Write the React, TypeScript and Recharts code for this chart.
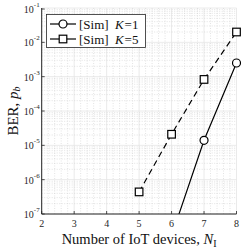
import {
  LineChart,
  Line,
  XAxis,
  YAxis,
  CartesianGrid,
  ReferenceLine,
  Legend,
} from "recharts";

const nDevices = [5, 6, 7, 8];
const berK1 = [null, 2.3e-8, 1.4e-5, 2.5e-3]; // K=1, x=6 point is below the axis floor
const berK5 = [4.4e-7, 2.1e-5, 8.3e-4, 2.0e-2];

const xTicks = [2, 3, 4, 5, 6, 7, 8];
const yTicks = [1e-7, 1e-6, 1e-5, 1e-4, 1e-3, 1e-2, 1e-1];
const legendNames = ["K=1", "K=5"];

const FONT = "'Liberation Serif', 'DejaVu Serif', serif";
const AXIS = "#262626";
const MINOR = "#d0d0d0";

const data = nDevices.map((n, i) => ({ n, k1: berK1[i], k5: berK5[i] }));

// minor grid (log decades on y, fifths on x)
const yMinor: number[] = [];
for (let d = -7; d < -1; d++) {
  for (let m = 2; m <= 9; m++) yMinor.push(m * Math.pow(10, d));
}
const xMinor: number[] = [];
for (let v = 2; v < 8; v++) {
  for (let s = 1; s < 5; s++) xMinor.push(v + s * 0.2);
}

const XTick = (props: any) => {
  const { x, y, payload } = props;
  return (
    <g>
      <line x1={x} x2={x} y1={y} y2={y - 3} stroke={AXIS} strokeWidth={0.8} />
      <text x={x} y={y + 13} textAnchor="middle" fontSize={10} fill={AXIS} fontFamily={FONT}>
        {payload.value}
      </text>
    </g>
  );
};

const TopTick = (props: any) => {
  const { x, y } = props;
  return <line x1={x} x2={x} y1={y} y2={y + 3} stroke={AXIS} strokeWidth={0.8} />;
};

const YTick = (props: any) => {
  const { x, y, payload } = props;
  const exp = Math.round(Math.log10(payload.value));
  return (
    <g>
      <line x1={x} x2={x + 3} y1={y} y2={y} stroke={AXIS} strokeWidth={0.8} />
      <text x={x - 2} y={y + 4} textAnchor="end" fontSize={10} fill={AXIS} fontFamily={FONT}>
        <tspan>10</tspan>
        <tspan dy={-6} fontSize={7}>{exp}</tspan>
      </text>
    </g>
  );
};

const RightTick = (props: any) => {
  const { x, y } = props;
  return <line x1={x} x2={x - 3} y1={y} y2={y} stroke={AXIS} strokeWidth={0.8} />;
};

const XLabel = (props: any) => {
  const { x, y, width } = props.viewBox;
  return (
    <text x={x + width / 2} y={y + 30} textAnchor="middle" fontSize={14.5} fill="#111" fontFamily={FONT}>
      Number of IoT devices,{" "}
      <tspan fontStyle="italic">N</tspan>
      <tspan fontSize={10} dy={3}>I</tspan>
    </text>
  );
};

const YLabel = (props: any) => {
  const { y, height } = props.viewBox;
  const cx = 13;
  const cy = y + height / 2;
  return (
    <text
      x={cx}
      y={cy}
      transform={`rotate(-90 ${cx} ${cy})`}
      textAnchor="middle"
      dominantBaseline="central"
      fontSize={15}
      fill="#111"
      fontFamily={FONT}
    >
      BER,{" "}
      <tspan fontStyle="italic">p</tspan>
      <tspan fontSize={10} fontStyle="italic" dy={3}>b</tspan>
    </text>
  );
};

const SquareDot = (props: any) => {
  const { cx, cy, index } = props;
  if (cx == null || cy == null) return <g key={index} />;
  return (
    <rect
      key={index}
      x={cx - 3.8}
      y={cy - 3.8}
      width={7.6}
      height={7.6}
      fill="white"
      stroke="black"
      strokeWidth={1.2}
    />
  );
};

const LegendBox = () => (
  <svg width={100} height={34} style={{ display: "block" }}>
    <rect x={0.5} y={0.5} width={99} height={33} fill="white" stroke={AXIS} strokeWidth={0.8} />
    {legendNames.map((name, i) => {
      const cy = 10 + i * 15;
      const [k, v] = name.split("=");
      return (
        <g key={name}>
          <line x1={4} x2={30} y1={cy} y2={cy} stroke="black" strokeWidth={1.2} />
          {i === 0 ? (
            <circle cx={17} cy={cy} r={4} fill="white" stroke="black" strokeWidth={1.2} />
          ) : (
            <rect x={13.2} y={cy - 3.8} width={7.6} height={7.6} fill="white" stroke="black" strokeWidth={1.2} />
          )}
          <text x={33} y={cy + 4.5} fontSize={13} fill="#111" fontFamily={FONT}>
            [Sim]{"  "}
            <tspan fontStyle="italic" dx={3}>{k}</tspan>
            <tspan dx={1}>={v}</tspan>
          </text>
        </g>
      );
    })}
  </svg>
);

export default function App() {
  return (
    <div style={{ position: "absolute", left: 0, top: 0 }}>
      <LineChart
        width={242}
        height={249}
        data={data}
        margin={{ top: 8, right: 5.5, left: 0, bottom: 0 }}
      >
        <CartesianGrid stroke="#e4e4e4" strokeWidth={0.8} />
        {yMinor.map((v) => (
          <ReferenceLine key={`ym${v}`} y={v} stroke={MINOR} strokeWidth={0.6} strokeDasharray="1 1.5" />
        ))}
        {xMinor.map((v) => (
          <ReferenceLine key={`xm${v}`} x={v} stroke={MINOR} strokeWidth={0.6} strokeDasharray="1 1.5" />
        ))}
        <XAxis
          dataKey="n"
          type="number"
          domain={[2, 8]}
          ticks={xTicks}
          tickSize={0}
          tickMargin={0}
          tickLine={false}
          tick={<XTick />}
          height={35}
          stroke={AXIS}
          label={<XLabel />}
        />
        <XAxis
          xAxisId="top"
          orientation="top"
          dataKey="n"
          type="number"
          domain={[2, 8]}
          ticks={xTicks}
          tickSize={0}
          tickMargin={0}
          tickLine={false}
          tick={<TopTick />}
          height={0}
          stroke={AXIS}
        />
        <YAxis
          scale="log"
          type="number"
          domain={[1e-7, 1e-1]}
          allowDataOverflow
          ticks={yTicks}
          tickSize={0}
          tickMargin={0}
          tickLine={false}
          tick={<YTick />}
          width={41.7}
          stroke={AXIS}
          label={<YLabel />}
        />
        <YAxis
          yAxisId="r"
          orientation="right"
          scale="log"
          type="number"
          domain={[1e-7, 1e-1]}
          allowDataOverflow
          ticks={yTicks}
          tickSize={0}
          tickMargin={0}
          tickLine={false}
          tick={<RightTick />}
          width={0}
          stroke={AXIS}
        />
        <Legend
          layout="vertical"
          align="center"
          verticalAlign="middle"
          content={<LegendBox />}
          wrapperStyle={{ position: "absolute", left: 46, top: 14, width: 100 }}
        />
        <Line
          dataKey="k1"
          stroke="black"
          strokeWidth={1.2}
          dot={{ r: 4, fill: "white", stroke: "black", strokeWidth: 1.2 }}
          isAnimationActive={false}
          connectNulls={false}
        />
        <Line
          dataKey="k5"
          stroke="black"
          strokeWidth={1.2}
          strokeDasharray="6 4"
          dot={<SquareDot />}
          isAnimationActive={false}
        />
      </LineChart>
    </div>
  );
}
